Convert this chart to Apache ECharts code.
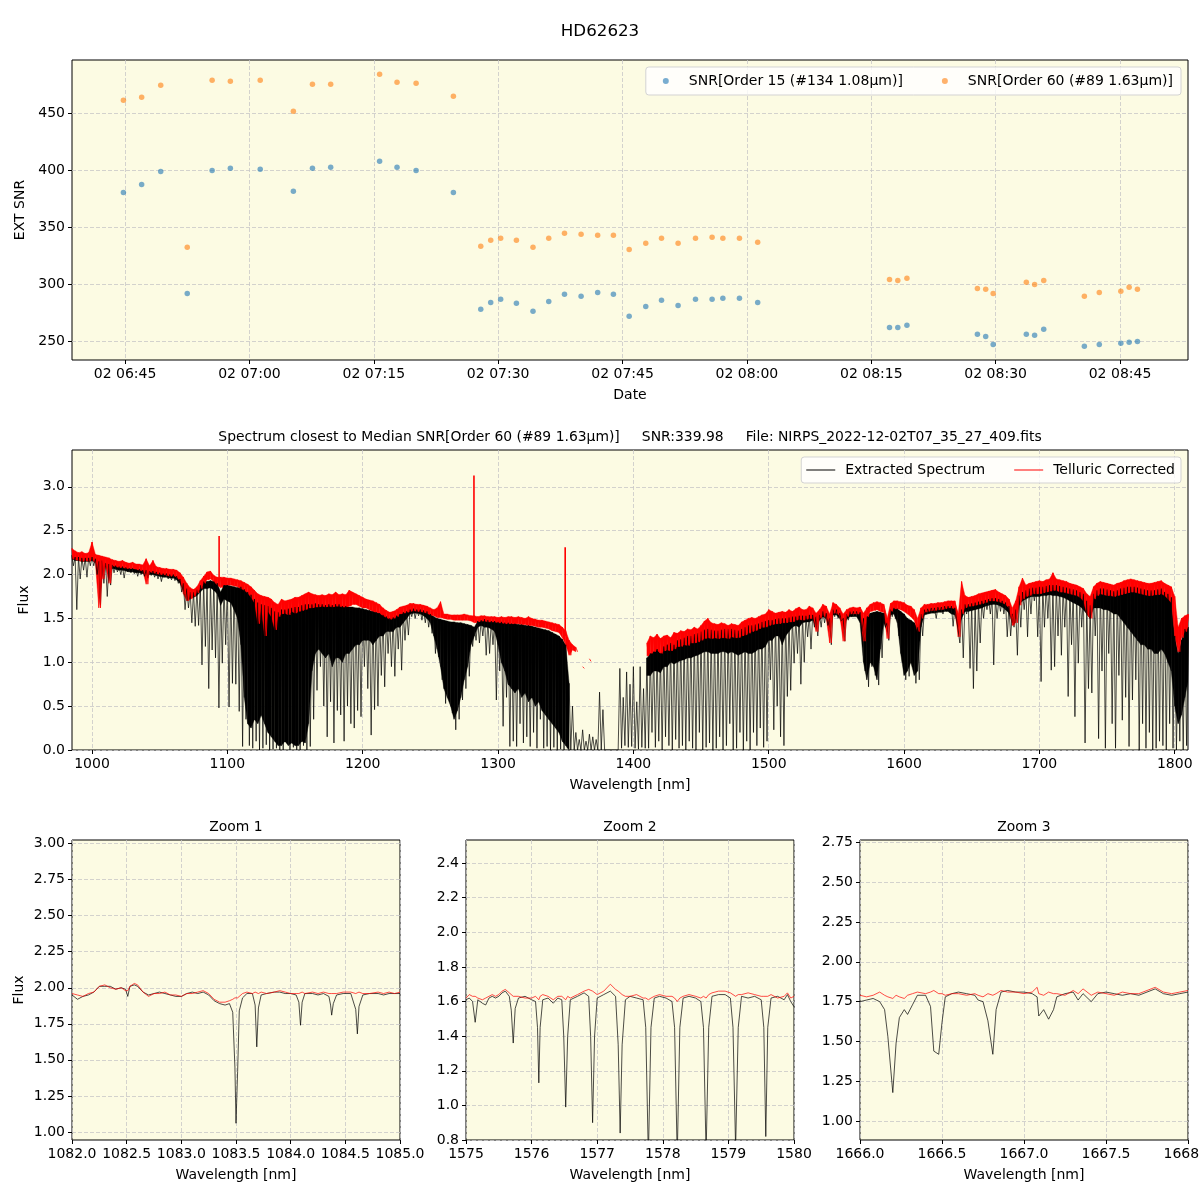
<!DOCTYPE html>
<html><head><meta charset="utf-8">
<script src="https://cdn.jsdelivr.net/npm/echarts@6/dist/echarts.min.js"></script>
<style>html,body{margin:0;padding:0;background:#fff}#c{width:1200px;height:1200px}</style>
</head><body><div id="c"></div>
<script>
// ---------- Top panel: SNR vs time ----------
const obsTimes = ['06:44:48','06:47:00','06:49:18','06:52:30','06:55:30','06:57:42','07:01:18','07:05:18','07:07:36','07:09:48',
  '07:15:42','07:17:48','07:20:06','07:24:36','07:27:54','07:29:06','07:30:18','07:32:12','07:34:12','07:36:06',
  '07:38:00','07:40:00','07:42:00','07:43:54','07:45:48','07:47:48','07:49:42','07:51:42','07:53:48','07:55:48',
  '07:57:06','07:59:06','08:01:18','08:17:12','08:18:12','08:19:18','08:27:48','08:28:48','08:29:42','08:33:42',
  '08:34:42','08:35:48','08:40:42','08:42:30','08:45:06','08:46:06','08:47:06'];
const snrOrder15 = [380.4,387.4,398.8,291.8,399.7,401.5,400.6,381.3,401.5,402.4,
  407.6,402.4,399.7,380.4,277.8,283.9,286.6,283.1,276.1,284.8,
  291.0,289.2,292.7,291.0,271.7,280.4,285.7,281.3,286.6,286.6,
  287.5,287.5,283.9,262.0,262.0,263.8,255.9,254.1,247.1,255.9,
  255.0,260.3,245.4,247.1,248.0,248.9,249.7];
const snrOrder60 = [461.1,463.8,474.3,332.2,478.7,477.8,478.7,451.5,475.2,475.2,
  483.9,476.9,476.1,464.6,333.1,338.4,340.1,338.4,332.2,340.1,
  344.5,343.6,342.7,342.7,330.4,335.7,340.1,335.7,340.1,341.0,
  340.1,340.1,336.6,304.1,303.2,305.0,296.2,295.4,291.8,301.5,
  299.7,303.2,289.2,292.7,293.6,297.1,295.4];
const timeTicks = ['06:45','07:00','07:15','07:30','07:45','08:00','08:15','08:30','08:45'];
const snrTicks = [250,300,350,400,450];

// ---------- Middle panel: full spectrum, envelope per 2.5 nm bin starting at 985 nm ----------
const specStart = 985, specStep = 2.5;
// top of the extracted spectrum in each bin
const extHi = [
 2.22,2.20,2.20,2.19,2.19,2.19,2.20,2.18,2.15,2.16, 2.13,2.12,2.11,2.10,2.09,2.09,2.08,2.07,2.07,2.06,
 2.06,2.05,2.05,2.04,2.04,2.03,2.02,2.01,2.01,2.00, 2.00,1.98,1.95,1.90,1.84,1.80,1.80,1.83,1.88,1.92,
 1.92,1.93,1.92,1.90,1.80,1.88,1.88,1.87,1.86,1.85, 1.86,1.83,1.80,1.77,1.72,1.68,1.66,1.65,1.64,1.62,
 1.58,1.57,1.60,1.60,1.61,1.62,1.63,1.63,1.65,1.66, 1.66,1.66,1.67,1.66,1.66,1.65,1.66,1.65,1.66,1.66,
 1.64,1.64,1.63,1.63,1.62,1.62,1.61,1.60,1.59,1.58, 1.57,1.56,1.54,1.52,1.50,1.51,1.53,1.55,1.57,1.58,
 1.60,1.61,1.60,1.60,1.59,1.58,1.55,1.52,1.50,1.49, 1.48,1.47,1.46,1.46,1.45,1.45,1.44,1.43,1.42,1.40,
 1.47,1.48,1.49,1.48,1.47,1.47,1.46,1.46,1.45,1.45, 1.44,1.44,1.43,1.43,1.42,1.42,1.41,1.40,1.39,1.38,
 1.37,1.36,1.34,1.32,1.30,1.26,1.20,0.76,0.50,0.20, 0.12,0.23,0.10,0.18,0.15,0.12,0.66,0.46,0.02,0.00,
 0.00,0.00,0.93,0.60,0.89,0.75,0.95,0.55,0.95,0.70, 1.05,1.10,1.12,1.15,1.10,1.18,1.20,1.22,1.20,1.25,
 1.26,1.28,1.30,1.30,1.32,1.33,1.35,1.37,1.38,1.37, 1.36,1.36,1.37,1.38,1.38,1.38,1.37,1.36,1.38,1.40,
 1.42,1.42,1.43,1.44,1.46,1.47,1.48,1.48,1.49,1.50, 1.50,1.50,1.51,1.52,1.52,1.53,1.53,1.53,1.54,1.54,
 1.52,1.54,1.58,1.56,1.50,1.60,1.60,1.56,1.50,1.55, 1.58,1.58,1.58,1.57,1.50,1.52,1.56,1.57,1.58,1.57,
 1.56,1.45,1.60,1.62,1.61,1.58,1.55,1.50,1.48,1.45, 1.40,1.55,1.60,1.61,1.62,1.62,1.63,1.63,1.64,1.64,
 1.64,1.62,1.50,1.60,1.66,1.66,1.67,1.68,1.69,1.70, 1.71,1.72,1.73,1.73,1.72,1.70,1.68,1.64,1.55,1.60,
 1.76,1.80,1.82,1.84,1.85,1.85,1.86,1.86,1.87,1.88, 1.88,1.88,1.87,1.86,1.85,1.84,1.83,1.82,1.80,1.78,
 1.70,1.65,1.78,1.82,1.84,1.84,1.83,1.82,1.81,1.82, 1.84,1.85,1.86,1.86,1.86,1.85,1.84,1.83,1.82,1.82,
 1.82,1.83,1.84,1.80,1.78,1.74,1.30,1.10,1.25,1.38,1.40];
// lower edge of the solidly black part in each bin (null: no solid part, only isolated lines)
const extCore = [
 2.18,2.16,2.16,2.15,2.15,2.15,2.16,2.14,2.11,2.12, 2.09,2.08,2.07,2.06,2.05,2.05,2.04,2.03,2.03,2.02,
 2.02,2.01,2.01,2.00,2.00,1.99,1.98,1.97,1.97,1.96, 1.96,1.94,1.90,1.82,1.78,1.74,1.74,1.76,1.80,1.84,
 1.84,1.85,1.82,1.78,1.65,1.72,1.70,1.68,1.60,1.50, 1.20,0.60,0.30,0.25,0.35,0.30,0.40,0.30,0.20,0.15,
 0.10,0.05,0.05,0.10,0.05,0.08,0.05,0.05,0.10,0.08, 0.30,0.90,1.10,1.15,1.10,1.05,1.10,0.95,1.05,1.05,
 1.00,1.10,1.10,1.15,1.20,1.20,1.25,1.25,1.25,1.20, 1.25,1.30,1.30,1.35,1.35,1.35,1.40,1.40,1.45,1.50,
 1.55,1.56,1.56,1.55,1.53,1.50,1.45,1.30,1.15,0.95, 0.70,0.60,0.50,0.35,0.45,0.60,0.80,0.95,1.20,1.30,
 1.40,1.42,1.40,1.40,1.38,1.35,1.20,1.00,0.90,0.75, 0.70,0.65,0.70,0.60,0.65,0.55,0.60,0.50,0.55,0.45,
 0.40,0.35,0.30,0.25,0.20,0.10,0.05,0.00,null,null, null,null,null,null,null,null,null,null,null,null,
 null,null,null,null,null,null,null,null,null,null, 0.85,0.85,0.90,0.90,0.88,0.95,0.95,1.00,0.98,1.00,
 1.02,1.03,1.05,1.05,1.07,1.08,1.10,1.12,1.12,1.10, 1.10,1.10,1.12,1.12,1.10,1.12,1.10,1.08,1.10,1.12,
 1.10,1.10,1.12,1.15,1.15,1.18,1.25,1.25,1.30,1.30, 1.20,1.30,1.35,1.40,1.42,1.40,1.45,1.46,1.46,1.48,
 1.45,1.48,1.52,1.50,1.40,1.54,1.54,1.50,1.40,1.49, 1.52,1.52,1.52,1.45,1.00,0.80,1.00,0.95,0.80,1.15,
 1.45,1.35,1.54,1.55,1.45,1.10,0.85,0.90,1.00,0.85, 0.90,1.40,1.54,1.55,1.56,1.56,1.57,1.57,1.58,1.58,
 1.55,1.54,1.40,1.50,1.58,1.58,1.59,1.60,1.61,1.62, 1.64,1.65,1.66,1.66,1.65,1.63,1.60,1.56,1.45,1.50,
 1.66,1.70,1.72,1.74,1.75,1.75,1.75,1.76,1.76,1.77, 1.76,1.76,1.75,1.74,1.72,1.70,1.68,1.66,1.64,1.60,
 1.55,1.50,1.62,1.62,1.62,1.60,1.60,1.58,1.55,1.55, 1.50,1.45,1.40,1.35,1.30,1.25,1.20,1.20,1.15,1.15,
 1.10,1.10,1.15,1.10,1.00,0.90,0.50,0.30,0.40,0.60,0.80];
// deepest absorption reached in each bin
const extLo = [
 2.10,1.60,1.95,2.05,1.97,2.10,2.10,2.00,1.65,1.90, 1.75,1.88,2.02,2.03,2.00,1.96,2.03,2.02,2.01,1.98,
 2.00,1.98,1.96,1.99,1.97,1.95,1.92,1.97,1.95,1.94, 1.93,1.90,1.80,1.60,1.62,1.45,1.41,1.42,0.97,1.18,
 0.70,1.14,1.05,0.48,0.99,1.20,0.49,0.76,0.75,0.44, 0.04,0.35,0.05,0.02,0.10,0.00,0.02,0.06,0.00,0.01,
 0.02,0.00,0.00,0.10,0.00,0.03,0.00,0.00,0.05,0.00, 0.04,0.35,0.68,0.95,0.50,0.15,0.55,0.08,0.45,0.40,
 0.10,0.50,0.30,0.25,0.45,0.38,0.95,0.70,0.17,0.46, 0.50,0.85,0.72,1.10,0.95,0.84,1.15,0.91,1.25,1.31,
 1.52,1.50,1.53,1.48,1.45,1.40,1.33,1.10,1.06,0.80, 0.53,0.60,0.42,0.23,0.35,0.57,0.70,0.84,1.18,1.25,
 1.22,1.30,1.08,1.10,1.20,0.57,0.90,0.27,0.60,0.04, 0.10,0.04,0.30,0.08,0.15,0.04,0.20,0.02,0.35,0.02,
 0.04,0.00,0.03,0.00,0.01,0.00,0.02,0.00,0.00,0.00, 0.00,0.00,0.00,0.00,0.00,0.00,0.00,0.00,0.00,0.00,
 0.00,0.00,0.02,0.05,0.03,0.04,0.02,0.01,0.03,0.02, 0.02,0.20,0.03,0.10,0.00,0.15,0.05,0.00,0.12,0.02,
 0.05,0.00,0.10,0.02,0.00,0.20,0.00,0.03,0.08,0.00, 0.02,0.15,0.00,0.05,0.30,0.00,0.02,0.20,0.00,0.10,
 0.00,0.20,0.05,0.25,0.03,0.10,0.80,0.23,0.50,0.15, 0.05,0.61,0.68,0.99,1.10,0.75,1.00,1.29,1.15,1.40,
 1.30,1.40,1.45,1.42,1.20,1.52,1.50,1.47,1.24,1.48, 1.52,1.53,1.50,1.35,0.90,0.72,0.95,0.85,0.74,1.05,
 1.40,1.25,1.52,1.50,1.30,1.00,0.80,0.84,0.95,0.76, 0.80,1.30,1.55,1.56,1.57,1.50,1.58,1.55,1.58,1.57,
 1.41,1.50,1.22,1.05,1.55,0.93,0.70,0.90,1.22,1.50, 1.60,1.55,0.97,1.50,1.58,1.55,1.29,1.30,1.40,1.08,
 1.40,1.60,1.29,1.55,1.70,1.29,0.78,1.40,1.50,0.91, 0.95,1.30,1.08,1.40,0.61,1.20,0.38,0.99,1.40,0.08,
 0.70,0.65,1.30,0.13,0.90,0.02,1.10,0.30,0.02,0.85, 0.34,0.60,0.04,0.57,0.80,0.00,0.30,0.02,0.20,0.00,
 0.02,0.10,0.05,0.00,0.30,0.02,0.00,0.10,0.00,0.05,0.20];
const telHi = [
 2.30,2.27,2.25,2.26,2.24,2.25,2.37,2.23,2.22,2.21, 2.20,2.19,2.17,2.16,2.15,2.16,2.14,2.13,2.14,2.12,
 2.12,2.11,2.18,2.10,2.16,2.09,2.08,2.07,2.07,2.06, 2.06,2.05,2.02,1.97,1.90,1.85,1.83,1.86,1.93,1.98,
 2.03,2.04,1.99,1.97,1.97,1.97,1.96,1.96,1.95,1.94, 1.93,1.91,1.89,1.86,1.82,1.78,1.76,1.75,1.74,1.72,
 1.68,1.66,1.72,1.70,1.71,1.72,1.74,1.74,1.76,1.78, 1.80,1.78,1.77,1.76,1.77,1.76,1.78,1.77,1.80,1.77,
 1.78,1.77,1.82,1.80,1.78,1.76,1.74,1.72,1.71,1.70, 1.68,1.66,1.62,1.59,1.57,1.58,1.60,1.63,1.64,1.65,
 1.67,1.67,1.66,1.66,1.65,1.64,1.62,1.60,1.62,1.69, 1.55,1.55,1.54,1.54,1.54,1.54,1.55,1.54,1.53,1.53,
 1.52,1.53,1.53,1.52,1.52,1.52,1.51,1.52,1.51,1.52, 1.52,1.51,1.52,1.51,1.50,1.52,1.50,1.49,1.48,1.48,
 1.47,1.46,1.45,1.44,1.43,1.40,1.36,1.25,1.20,1.17, null,0.95,null,1.04,null,null,null,null,null,null,
 null,null,null,null,null,null,null,null,null,null, 1.22,1.30,1.28,1.32,1.27,1.30,1.31,1.28,1.34,1.33,
 1.36,1.35,1.38,1.37,1.40,1.38,1.42,1.47,1.50,1.45, 1.44,1.43,1.45,1.44,1.42,1.44,1.43,1.42,1.46,1.48,
 1.50,1.51,1.50,1.52,1.54,1.55,1.60,1.58,1.56,1.57, 1.58,1.57,1.60,1.58,1.61,1.63,1.60,1.60,1.64,1.62,
 1.56,1.60,1.66,1.64,1.55,1.68,1.66,1.62,1.55,1.60, 1.62,1.63,1.62,1.63,1.56,1.62,1.66,1.68,1.69,1.68,
 1.66,1.50,1.67,1.70,1.70,1.69,1.68,1.65,1.64,1.60, 1.50,1.62,1.66,1.66,1.67,1.67,1.68,1.68,1.69,1.70,
 1.70,1.70,1.55,1.92,1.76,1.74,1.75,1.76,1.78,1.79, 1.80,1.81,1.82,1.83,1.80,1.78,1.76,1.72,1.62,1.70,
 1.86,1.96,1.88,1.90,1.91,1.92,1.93,1.92,1.94,1.95, 2.02,1.95,1.94,1.93,1.92,1.90,1.89,1.88,1.86,1.84,
 1.78,1.75,1.86,1.90,1.92,1.91,1.90,1.89,1.88,1.90, 1.91,1.93,1.94,1.95,1.94,1.93,1.92,1.91,1.90,1.90,
 1.91,1.92,1.93,1.90,1.88,1.86,1.75,1.40,1.50,1.53,1.55];
const telLo = [
 2.18,2.17,2.16,2.15,2.16,2.15,2.17,2.13,1.62,1.95, 2.10,1.90,2.10,2.09,2.08,2.08,2.07,2.07,2.07,2.06,
 2.05,2.04,1.89,2.03,2.02,2.01,2.00,2.00,1.99,1.98, 1.99,1.97,1.93,1.78,1.70,1.72,1.75,1.79,1.84,1.90,
 1.94,1.95,1.92,1.88,1.85,1.88,1.88,1.88,1.87,1.86, 1.84,1.82,1.79,1.74,1.68,1.44,1.63,1.30,1.58,1.52,
 1.37,1.52,1.55,1.56,1.54,1.58,1.56,1.58,1.59,1.60, 1.62,1.62,1.63,1.63,1.64,1.63,1.64,1.63,1.64,1.64,
 1.63,1.63,1.64,1.66,1.66,1.64,1.62,1.62,1.60,1.58, 1.57,1.56,1.53,1.51,1.49,1.50,1.52,1.55,1.56,1.57,
 1.58,1.59,1.58,1.58,1.57,1.56,1.54,1.53,1.51,1.51, 1.50,1.49,1.49,1.48,1.48,1.48,1.48,1.48,1.47,1.45,
 1.46,1.47,1.47,1.46,1.46,1.46,1.45,1.45,1.44,1.44, 1.44,1.44,1.44,1.43,1.43,1.42,1.42,1.41,1.40,1.40,
 1.39,1.38,1.36,1.35,1.34,1.28,1.20,1.08,1.14,1.12, null,0.93,null,1.01,null,null,null,null,null,null,
 null,null,null,null,null,null,null,null,null,null, 1.07,1.10,1.12,1.14,1.10,1.13,1.14,1.13,1.15,1.18,
 1.18,1.20,1.19,1.22,1.22,1.23,1.25,1.27,1.28,1.27, 1.28,1.27,1.28,1.28,1.27,1.29,1.28,1.28,1.30,1.31,
 1.33,1.35,1.36,1.38,1.40,1.40,1.42,1.43,1.44,1.44, 1.45,1.45,1.46,1.46,1.48,1.49,1.48,1.49,1.50,1.50,
 1.35,1.50,1.54,1.50,1.22,1.56,1.56,1.53,1.24,1.52, 1.55,1.55,1.55,1.55,1.24,1.52,1.58,1.59,1.60,1.58,
 1.57,1.27,1.58,1.61,1.61,1.60,1.58,1.55,1.52,1.48, 1.35,1.50,1.57,1.58,1.59,1.59,1.60,1.60,1.61,1.62,
 1.62,1.61,1.29,1.55,1.62,1.64,1.64,1.65,1.66,1.67, 1.68,1.70,1.70,1.70,1.69,1.68,1.66,1.62,1.42,1.45,
 1.65,1.72,1.75,1.76,1.78,1.78,1.78,1.79,1.80,1.81, 1.82,1.82,1.80,1.80,1.79,1.78,1.77,1.76,1.74,1.70,
 1.55,1.50,1.72,1.76,1.78,1.77,1.76,1.76,1.75,1.76, 1.77,1.78,1.79,1.80,1.80,1.79,1.78,1.77,1.76,1.76,
 1.77,1.77,1.78,1.76,1.72,1.68,1.30,1.12,1.28,1.35,1.40];
// narrow emission-like spikes in the telluric-corrected spectrum
const telSpikeWl = [1093.9, 1282.2, 1349.6];
const telSpikeTop = [2.44, 3.13, 2.31];
const telSpikeBase = [1.90, 1.48, 1.30];
const specTicks = [1000,1100,1200,1300,1400,1500,1600,1700,1800];
const fluxTicks = [0,0.5,1.0,1.5,2.0,2.5,3.0];

// ---------- Zoom 1 ----------
const zoom1Wl = [1082.00,1082.05,1082.10,1082.15,1082.20,1082.25,1082.30,1082.35,1082.40,1082.45,
 1082.49,1082.51,1082.53,1082.57,1082.60,1082.65,1082.70,1082.75,1082.80,1082.85,
 1082.90,1082.95,1083.00,1083.05,1083.10,1083.15,1083.20,1083.25,1083.30,1083.35,
 1083.40,1083.44,1083.47,1083.49,1083.50,1083.515,1083.53,1083.56,1083.60,1083.65,
 1083.675,1083.69,1083.705,1083.73,1083.78,1083.85,1083.90,1083.95,1084.00,1084.05,
 1084.075,1084.09,1084.105,1084.13,1084.20,1084.25,1084.30,1084.35,1084.365,1084.375,
 1084.39,1084.42,1084.48,1084.55,1084.595,1084.61,1084.625,1084.66,1084.72,1084.80,
 1084.85,1084.90,1084.95,1085.00];
const zoom1Ext = [1.95,1.92,1.94,1.95,1.97,2.01,2.01,2.01,1.99,2.00, 1.99,1.94,2.01,2.02,2.01,1.97,1.95,1.96,1.97,1.96,
 1.95,1.94,1.94,1.96,1.97,1.96,1.97,1.95,1.91,1.89, 1.88,1.89,1.83,1.45,1.06,1.42,1.84,1.93,1.96,1.96,
 1.88,1.59,1.86,1.95,1.96,1.97,1.97,1.96,1.96,1.95, 1.90,1.74,1.90,1.96,1.96,1.95,1.96,1.94,1.88,1.81,
 1.89,1.95,1.96,1.96,1.85,1.68,1.87,1.95,1.96,1.96, 1.95,1.96,1.96,1.96];
const zoom1Tel = [1.96,1.95,1.94,1.96,1.97,2.01,2.02,2.00,1.99,2.00, 1.98,1.98,2.01,2.03,2.02,1.97,1.94,1.96,1.96,1.97,
 1.95,1.95,1.94,1.96,1.96,1.97,1.98,1.96,1.92,1.90, 1.90,1.91,1.92,1.93,1.92,1.93,1.94,1.96,1.97,1.96,
 1.97,1.96,1.96,1.97,1.96,1.97,1.98,1.97,1.96,1.96, 1.96,1.96,1.97,1.96,1.97,1.96,1.97,1.96,1.95,1.96,
 1.96,1.96,1.97,1.97,1.96,1.96,1.97,1.96,1.96,1.97, 1.96,1.97,1.96,1.97];
const zoom1XTicks = [1082.0,1082.5,1083.0,1083.5,1084.0,1084.5,1085.0];
const zoom1YTicks = [1.00,1.25,1.50,1.75,2.00,2.25,2.50,2.75,3.00];

// ---------- Zoom 2 ----------
const zoom2Wl = [1575.00,1575.05,1575.10,1575.14,1575.18,1575.25,1575.30,1575.35,1575.40,1575.45,
 1575.50,1575.55,1575.60,1575.66,1575.69,1575.72,1575.75,1575.80,1575.90,1576.00,
 1576.06,1576.09,1576.11,1576.13,1576.17,1576.25,1576.33,1576.40,1576.46,1576.49,
 1576.52,1576.55,1576.59,1576.70,1576.80,1576.87,1576.90,1576.93,1576.96,1577.00,
 1577.10,1577.20,1577.28,1577.32,1577.35,1577.38,1577.43,1577.50,1577.60,1577.70,
 1577.74,1577.78,1577.82,1577.87,1577.95,1578.05,1578.14,1578.18,1578.22,1578.26,
 1578.31,1578.40,1578.50,1578.58,1578.62,1578.66,1578.70,1578.75,1578.85,1578.95,
 1579.03,1579.07,1579.11,1579.15,1579.20,1579.30,1579.40,1579.50,1579.54,1579.57,
 1579.60,1579.65,1579.75,1579.85,1579.90,1579.95,1580.00];
const zoom2Ext = [1.61,1.62,1.60,1.48,1.61,1.59,1.58,1.62,1.63,1.62, 1.63,1.65,1.66,1.63,1.55,1.36,1.56,1.62,1.63,1.61,
 1.60,1.45,1.13,1.45,1.61,1.62,1.59,1.62,1.61,1.40, 0.99,1.40,1.61,1.63,1.65,1.63,1.40,0.90,1.40,1.62,
 1.64,1.66,1.63,1.35,0.84,1.35,1.61,1.63,1.62,1.61, 1.45,0.70,1.45,1.62,1.63,1.62,1.60,1.45,0.70,1.45,
 1.62,1.63,1.62,1.60,1.45,0.72,1.45,1.63,1.64,1.64, 1.62,1.45,0.75,1.45,1.63,1.62,1.63,1.61,1.45,0.82,
 1.45,1.62,1.63,1.61,1.64,1.60,1.57];
const zoom2Tel = [1.62,1.64,1.63,1.63,1.62,1.61,1.62,1.63,1.64,1.63, 1.64,1.66,1.67,1.65,1.64,1.63,1.64,1.63,1.62,1.62,
 1.63,1.62,1.61,1.63,1.64,1.63,1.61,1.63,1.63,1.62, 1.61,1.63,1.62,1.64,1.66,1.67,1.67,1.66,1.65,1.64,
 1.66,1.70,1.67,1.66,1.65,1.64,1.63,1.63,1.64,1.62, 1.62,1.61,1.62,1.63,1.64,1.63,1.63,1.62,1.60,1.62,
 1.63,1.64,1.63,1.62,1.63,1.62,1.64,1.65,1.66,1.66, 1.65,1.64,1.63,1.64,1.64,1.65,1.64,1.63,1.63,1.62,
 1.63,1.64,1.62,1.63,1.65,1.62,1.63];
const zoom2XTicks = [1575,1576,1577,1578,1579,1580];
const zoom2YTicks = [0.8,1.0,1.2,1.4,1.6,1.8,2.0,2.2,2.4];

// ---------- Zoom 3 ----------
const zoom3Wl = [1666.00,1666.04,1666.08,1666.12,1666.15,1666.17,1666.20,1666.22,1666.24,1666.27,
 1666.29,1666.32,1666.35,1666.40,1666.43,1666.45,1666.48,1666.50,1666.52,1666.56,
 1666.60,1666.65,1666.70,1666.72,1666.75,1666.78,1666.81,1666.83,1666.86,1666.90,
 1666.95,1667.00,1667.05,1667.08,1667.09,1667.12,1667.15,1667.18,1667.20,1667.25,
 1667.30,1667.33,1667.36,1667.41,1667.45,1667.50,1667.55,1667.60,1667.65,1667.70,
 1667.75,1667.80,1667.85,1667.90,1667.95,1668.00];
const zoom3Ext = [1.75,1.76,1.77,1.75,1.70,1.53,1.18,1.49,1.65,1.70, 1.67,1.73,1.79,1.79,1.72,1.44,1.42,1.62,1.78,1.80,
 1.81,1.80,1.79,1.76,1.75,1.63,1.42,1.70,1.81,1.82, 1.81,1.81,1.80,1.78,1.66,1.70,1.64,1.70,1.78,1.80,
 1.81,1.76,1.80,1.75,1.80,1.81,1.80,1.79,1.80,1.79, 1.81,1.83,1.80,1.79,1.80,1.81];
const zoom3Tel = [1.79,1.78,1.79,1.81,1.79,1.78,1.77,1.79,1.78,1.77, 1.79,1.80,1.81,1.80,1.81,1.82,1.80,1.80,1.79,1.80,
 1.80,1.79,1.80,1.79,1.78,1.80,1.79,1.80,1.82,1.81, 1.81,1.80,1.81,1.84,1.80,1.79,1.81,1.80,1.80,1.79,
 1.82,1.80,1.83,1.79,1.81,1.80,1.79,1.81,1.80,1.80, 1.82,1.84,1.81,1.80,1.81,1.82];
const zoom3XTicks = [1666.0,1666.5,1667.0,1667.5,1668.0];
const zoom3YTicks = [1.00,1.25,1.50,1.75,2.00,2.25,2.50,2.75];

// ---------- build ----------
const FONT = 'DejaVu Sans';
const BG = '#fcfbe3';
const name15 = 'SNR[Order 15 (#134 1.08μm)]';
const name60 = 'SNR[Order 60 (#89 1.63μm)]';
function toMin(s){const p=s.split(':').map(Number);return p[0]*60+p[1]+(p[2]||0)/60;}
function fmtTime(v){const h=Math.floor(v/60+1e-9);const m=Math.round(v-h*60);return '02 '+String(h).padStart(2,'0')+':'+String(m).padStart(2,'0');}
const timeTickVals = timeTicks.map(toMin);

function gridBox(left, top, width, height){
  return {left, top, width, height, show:true, backgroundColor:BG, borderColor:'#000', borderWidth:1,
    containLabel:false, outerBoundsMode:'none'};
}
const gridLine = {show:true, lineStyle:{color:'#c8c8c8', type:[4,2], width:0.8}};
function axis(gridIndex, min, max, ticks, fmt, name, nameGap){
  return {
    type:'value', gridIndex, min, max, scale:true,
    name: name || '', nameLocation:'middle', nameGap: nameGap || 28,
    nameTextStyle:{fontFamily:FONT, fontSize:14, color:'#000'},
    axisLine:{show:false},
    axisTick:{show:true, inside:false, length:4, lineStyle:{color:'#000', width:1}, customValues:ticks},
    axisLabel:{show:true, customValues:ticks, formatter:fmt, fontFamily:FONT, fontSize:14, color:'#000', margin:7},
    splitLine:gridLine
  };
}

// zig-zag line from the top of each bin to its deepest point
const blackPts = [], redPts = [];
for (let i = 0; i < extHi.length; i++) {
  const w = specStart + i * specStep;
  blackPts.push([w, extHi[i]], [w + specStep / 2, extLo[i]]);
  redPts.push([w, telHi[i] == null ? '-' : telHi[i]], [w + specStep / 2, telLo[i] == null ? '-' : telLo[i]]);
}
const spikePts = [];
telSpikeWl.forEach((w, i) => { spikePts.push([w, telSpikeBase[i]], [w, telSpikeTop[i]], [w, '-']); });

// filled band between two envelopes, drawn through the axis scales
function bandSeries(xi, upper, lower, color){
  const data = [];
  for (let i = 0; i < upper.length - 1; i++) {
    if (upper[i] == null || upper[i+1] == null || lower[i] == null || lower[i+1] == null) continue;
    data.push([specStart + i * specStep, upper[i], lower[i], specStart + (i + 1) * specStep, upper[i+1], lower[i+1]]);
  }
  return {type:'custom', xAxisIndex:xi, yAxisIndex:xi, data, clip:true, silent:true, animation:false,
    encode:{x:[0,3], y:[1,2,4,5]},
    renderItem:(params, api) => {
      const a = api.coord([api.value(0), api.value(1)]);
      const b = api.coord([api.value(3), api.value(4)]);
      const c = api.coord([api.value(3), api.value(5)]);
      const d = api.coord([api.value(0), api.value(2)]);
      return {type:'polygon', shape:{points:[a,b,c,d]}, style:{fill:color, stroke:color, lineWidth:0.4}};
    }};
}
const pairs = (xs, ys) => xs.map((x, i) => [x, ys[i]]);
function lineSeries(name, xi, data, color, width){
  return {type:'line', name, xAxisIndex:xi, yAxisIndex:xi, data, symbol:'none', showSymbol:false,
    lineStyle:{color, width}, itemStyle:{color}, clip:true, animation:false, silent:true};
}

const option = {
  animation:false,
  grid:[
    gridBox(72, 60, 1116, 300),
    gridBox(72, 450, 1116, 300),
    gridBox(72, 840, 328, 300),
    gridBox(466, 840, 328, 300),
    gridBox(860, 840, 328, 300)
  ],
  xAxis:[
    axis(0, 398.6, 533.2, timeTickVals, fmtTime, 'Date', 28),
    axis(1, 985.2, 1809.8, specTicks, v => String(Math.round(v)), 'Wavelength [nm]', 28),
    axis(2, 1082, 1085, zoom1XTicks, v => v.toFixed(1), 'Wavelength [nm]', 28),
    axis(3, 1575, 1580, zoom2XTicks, v => String(Math.round(v)), 'Wavelength [nm]', 28),
    axis(4, 1666, 1668, zoom3XTicks, v => v.toFixed(1), 'Wavelength [nm]', 28)
  ],
  yAxis:[
    axis(0, 233.4, 496.5, snrTicks, v => String(Math.round(v)), 'EXT SNR', 40),
    axis(1, 0, 3.42, fluxTicks, v => v.toFixed(1), 'Flux', 34),
    axis(2, 0.944, 3.025, zoom1YTicks, v => v.toFixed(2), 'Flux', 46),
    axis(3, 0.8, 2.533, zoom2YTicks, v => v.toFixed(1), '', 40),
    axis(4, 0.883, 2.763, zoom3YTicks, v => v.toFixed(2), '', 40)
  ],
  legend:[
    {top:67, right:19, orient:'horizontal', data:[name15, name60], icon:'circle', itemWidth:6, itemHeight:6, itemGap:39,
     padding:[7,8,7,17], backgroundColor:'rgba(255,255,255,0.8)', borderColor:'#d3d3d3', borderWidth:1, borderRadius:3,
     textStyle:{fontFamily:FONT, fontSize:14, color:'#000', padding:[0,0,0,15]}, selectedMode:false},
    {top:457, right:19, orient:'horizontal', data:['Extracted Spectrum','Telluric Corrected'], icon:'rect', itemWidth:29, itemHeight:1, itemGap:29,
     padding:[6,6,6,5], backgroundColor:'rgba(255,255,255,0.8)', borderColor:'#d3d3d3', borderWidth:1, borderRadius:3,
     textStyle:{fontFamily:FONT, fontSize:14, color:'#000', padding:[0,0,0,5]}, selectedMode:false}
  ],
  series:[
    {type:'scatter', name:name15, xAxisIndex:0, yAxisIndex:0, data:pairs(obsTimes.map(toMin), snrOrder15),
     symbol:'circle', symbolSize:5.5, itemStyle:{color:'#1f77b4', opacity:0.6}, silent:true},
    {type:'scatter', name:name60, xAxisIndex:0, yAxisIndex:0, data:pairs(obsTimes.map(toMin), snrOrder60),
     symbol:'circle', symbolSize:5.5, itemStyle:{color:'#ff7f0e', opacity:0.6}, silent:true},
    bandSeries(1, extHi, extCore, '#000000'),
    lineSeries('Extracted Spectrum', 1, blackPts, '#000000', 0.7),
    bandSeries(1, telHi, telLo, '#ff0000'),
    lineSeries('Telluric Corrected', 1, redPts, '#ff0000', 0.8),
    lineSeries('telluric spikes', 1, spikePts, '#ff0000', 1.6),
    lineSeries('zoom1 extracted', 2, pairs(zoom1Wl, zoom1Ext), '#000000', 0.7),
    lineSeries('zoom1 telluric', 2, pairs(zoom1Wl, zoom1Tel), '#ff0000', 0.7),
    lineSeries('zoom2 extracted', 3, pairs(zoom2Wl, zoom2Ext), '#000000', 0.7),
    lineSeries('zoom2 telluric', 3, pairs(zoom2Wl, zoom2Tel), '#ff0000', 0.7),
    lineSeries('zoom3 extracted', 4, pairs(zoom3Wl, zoom3Ext), '#000000', 0.7),
    lineSeries('zoom3 telluric', 4, pairs(zoom3Wl, zoom3Tel), '#ff0000', 0.7)
  ],
  graphic:[
    {type:'text', x:600, y:32, style:{text:'HD62623', font:'16.7px "DejaVu Sans"', fill:'#000', textAlign:'center', textVerticalAlign:'middle'}},
    {type:'text', x:630, y:437, style:{text:'Spectrum closest to Median SNR[Order 60 (#89 1.63μm)]     SNR:339.98     File: NIRPS_2022-12-02T07_35_27_409.fits', font:'13.9px "DejaVu Sans"', fill:'#000', textAlign:'center', textVerticalAlign:'middle'}},
    {type:'text', x:236, y:827, style:{text:'Zoom 1', font:'13.9px "DejaVu Sans"', fill:'#000', textAlign:'center', textVerticalAlign:'middle'}},
    {type:'text', x:630, y:827, style:{text:'Zoom 2', font:'13.9px "DejaVu Sans"', fill:'#000', textAlign:'center', textVerticalAlign:'middle'}},
    {type:'text', x:1024, y:827, style:{text:'Zoom 3', font:'13.9px "DejaVu Sans"', fill:'#000', textAlign:'center', textVerticalAlign:'middle'}}
  ]
};
const chart = echarts.init(document.getElementById('c'), null, {renderer:'canvas', width:1200, height:1200});
chart.setOption(option);
</script>
</body></html>
